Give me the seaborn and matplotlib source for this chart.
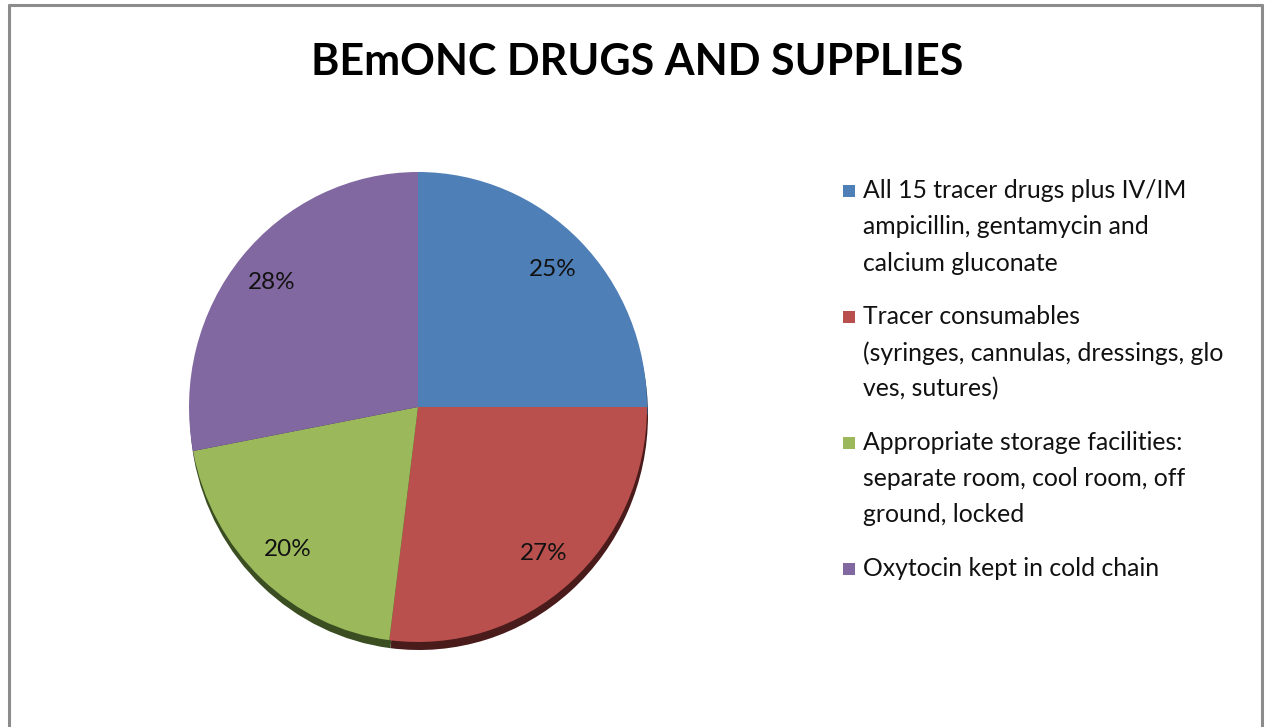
import matplotlib
matplotlib.use("Agg")
import matplotlib.pyplot as plt
from matplotlib.patches import Rectangle
from matplotlib.lines import Line2D
import seaborn as sns

# Share of facilities meeting each BEmONC drugs/supplies criterion
categories = [
    "All 15 tracer drugs plus IV/IM\nampicillin, gentamycin and\ncalcium gluconate",
    "Tracer consumables\n(syringes, cannulas, dressings, glo\nves, sutures)",
    "Appropriate storage facilities:\nseparate room, cool room, off\nground, locked",
    "Oxytocin kept in cold chain",
]
values = [25, 27, 20, 28]
pct_labels = ["25%", "27%", "20%", "28%"]
title = "BEmONC DRUGS AND SUPPLIES"

sns.set_theme(style="white")
plt.rcParams["font.family"] = ["Lato", "DejaVu Sans"]

colors = sns.color_palette(["#4F7FB7", "#B9504D", "#9BB85A", "#8168A0"])
shadow_colors = sns.color_palette(["#2A4260", "#4A1B1B", "#3B4E22", "#3E2F52"])

W, H = 1265, 727
fig = plt.figure(figsize=(W / 100, H / 100), dpi=100)
ax = fig.add_axes([0, 0, 1, 1])

# the pie is slightly taller than wide: stretch the y axis a little
rx, ry = 229, 235
sy = ry / rx
cx, cy = 418, (H - 407) / sy

# drop shadow under the pie
ax.pie(values, colors=shadow_colors, startangle=90, counterclock=False,
       center=(cx + 1, cy - 8 / sy), radius=rx, wedgeprops=dict(linewidth=0))

wedges, _, autotexts = ax.pie(
    values, colors=colors, startangle=90, counterclock=False,
    center=(cx, cy), radius=rx, autopct="%d%%", pctdistance=0.83,
    wedgeprops=dict(linewidth=0),
    textprops=dict(fontsize=17.5, color="#111111"),
)
for t, lab in zip(autotexts, pct_labels):
    t.set_text(lab)

ax.set_xlim(0, W)
ax.set_ylim(0, H / sy)
ax.set_aspect("auto")
ax.axis("off")

# title
fig.text(637 / W, 1 - 62 / H, title, ha="center", va="center",
         fontsize=31, fontweight="bold", color="black")

# legend, one square per category aligned to the first text line
line_h = 36
entry_gap = 54
y = 191
for col, lab in zip(colors, categories):
    lines = lab.split("\n")
    fig.patches.append(Rectangle((843 / W, 1 - (y + 6) / H), 12 / W, 12 / H,
                                 transform=fig.transFigure, facecolor=col,
                                 edgecolor="none"))
    for k, line in enumerate(lines):
        fig.text(863 / W, 1 - (y + k * line_h) / H, line, ha="left",
                 va="center", fontsize=17.8, color="#111111")
    y += (len(lines) - 1) * line_h + entry_gap

# chart frame
frame = dict(color="#8c8c8c", linewidth=2.2, transform=fig.transFigure)
fig.lines.append(Line2D([9 / W, 1262 / W], [1 - 5 / H, 1 - 5 / H], **frame))
fig.lines.append(Line2D([9 / W, 9 / W], [0, 1 - 5 / H], **frame))
fig.lines.append(Line2D([1262 / W, 1262 / W], [0, 1 - 5 / H], **frame))

fig.savefig("out.png", dpi=100, facecolor="white")
